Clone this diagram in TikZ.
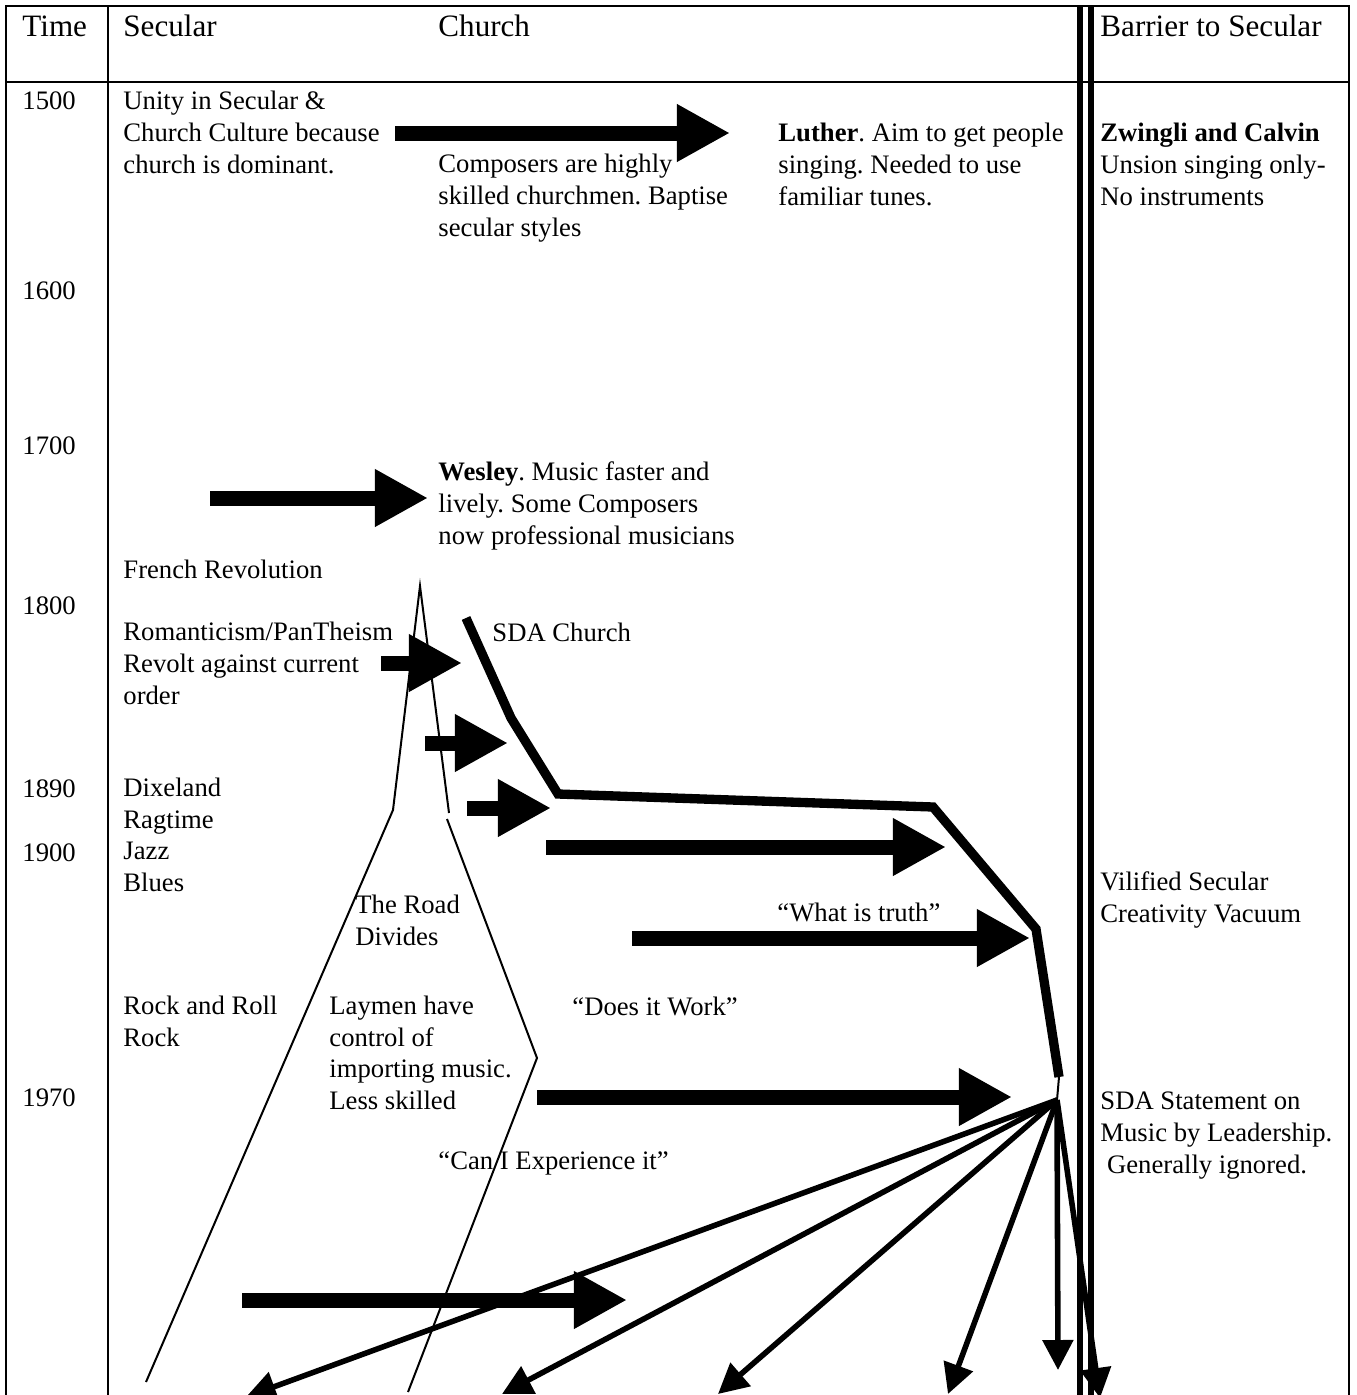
\documentclass[tikz,border=0pt]{standalone}
\usepackage{fontspec}
\setmainfont{Liberation Serif}
\usetikzlibrary{arrows.meta}
\frenchspacing
\begin{document}
\begin{tikzpicture}[x=0.45pt,y=-0.45pt,txt/.style={anchor=base west,inner sep=0,align=left,font=\fontsize{12}{14.2}\selectfont},hd/.style={txt,font=\fontsize{14}{16}\selectfont},rule/.style={line width=1.1pt},bar/.style={line width=2.7pt},road/.style={line width=0.9pt},fat/.style={line width=6.75pt,-{Triangle[length=23.9pt,width=24.3pt]}},fan/.style={line width=2.5pt,-{Triangle[length=13.5pt,width=13.5pt]}},sda/.style={line width=4.2pt}]
\useasboundingbox(0,0)rectangle(1356,1395);
\draw[rule](6,1395)--(6,6)--(1349,6)--(1349,1395);\draw[rule](6,82)--(1349,82);\draw[rule](108,6)--(108,1395);
\draw[bar](1080,6)--(1080,1395);\draw[bar](1090.5,6)--(1090.5,1395);
\node[hd](time)at(22,36){Time};\node[hd](secular)at(123,36){Secular};\node[hd](church)at(438,36){Church};\node[hd](barrier)at(1100,36){Barrier to Secular};
\node[txt](y1500)at(22,109){1500};\node[txt](y1600)at(22,299){1600};\node[txt](y1700)at(22,454){1700};\node[txt](y1800)at(22,614){1800};
\node[txt](y1890)at(22,797){1890};\node[txt](y1900)at(22,861){1900};\node[txt](y1970)at(22,1106){1970};
\node[txt](unity)at(123,173){Unity in Secular \&\\Church Culture because\\church is dominant.};
\node[txt](composers)at(438,236){Composers are highly\\skilled churchmen. Baptise\\secular styles};
\node[txt](luther)at(778,205){\textbf{Luther}. Aim to get people\\singing. Needed to use\\familiar tunes.};
\node[txt](zwingli)at(1100,205){\textbf{Zwingli and Calvin}\\Unsion singing only-\\No instruments};
\node[txt](wesley)at(438,544){\textbf{Wesley}. Music faster and\\lively. Some Composers\\now professional musicians};
\node[txt](french)at(123,578){French Revolution};
\node[txt](romantic)at(123,704){Romanticism/PanTheism\\Revolt against current\\order};
\node[txt](sdachurch)at(492,641){SDA Church};
\node[txt](dixie)at(123,891.5){Dixeland\\Ragtime\\Jazz\\Blues};
\node[txt](vilified)at(1100,922.5){Vilified Secular\\Creativity Vacuum};
\node[txt](road)at(355,945.5){The Road\\Divides};
\node[txt](truth)at(777,921){“What is truth”};
\node[txt](rock)at(123,1046.5){Rock and Roll\\Rock};
\node[txt](laymen)at(329,1109.5){Laymen have\\control of\\importing music.\\Less skilled};
\node[txt](work)at(572,1015){“Does it Work”};
\node[txt](statement)at(1100,1173){SDA Statement on\\Music by Leadership.\\~Generally ignored.};
\node[txt](experience)at(438,1169){“Can I Experience it”};
\coordinate(peak)at(420,586);\coordinate(ls)at(393,810);\coordinate(le)at(146,1382);\coordinate(rs)at(449,813);
\coordinate(rb)at(447,819);\coordinate(rk)at(537,1058);\coordinate(re)at(408,1392);
\draw[road](le)--(ls)--(peak)--(rs);\draw[road](rb)--(rk)--(re);
\coordinate(s1)at(466,618);\coordinate(s2)at(511,718);\coordinate(s3)at(558,794);\coordinate(s4)at(933,807);\coordinate(s5)at(1036,929);\coordinate(s6)at(1059,1077);\coordinate(hub)at(1057,1100);
\draw[sda](s1)--(s2)--(s3)--(s4)--(s5)--(s6);\draw[road](s6)--(hub);
\coordinate(a1s)at(395,133);\coordinate(a1e)at(730,133);\coordinate(a2s)at(210,498);\coordinate(a2e)at(428,498);
\coordinate(a3s)at(381,663);\coordinate(a3e)at(462,663);\coordinate(a4s)at(425,743);\coordinate(a4e)at(508,743);
\coordinate(a5s)at(467,808);\coordinate(a5e)at(551,808);\coordinate(a6s)at(546,847);\coordinate(a6e)at(946,847);
\coordinate(a7s)at(632,938);\coordinate(a7e)at(1030,938);\coordinate(a8s)at(537,1097);\coordinate(a8e)at(1012,1097);
\coordinate(a9s)at(242,1300);\coordinate(a9e)at(627,1300);
\draw[fat](a1s)--(a1e);\draw[fat](a2s)--(a2e);\draw[fat](a3s)--(a3e);\draw[fat](a4s)--(a4e);\draw[fat](a5s)--(a5e);
\draw[fat](a6s)--(a6e);\draw[fat](a7s)--(a7e);\draw[fat](a8s)--(a8e);\draw[fat](a9s)--(a9e);
\coordinate(f1)at(246,1397);\coordinate(f2)at(502,1394);\coordinate(f3)at(718,1394);\coordinate(f4)at(948,1394);\coordinate(f5)at(1058,1370);\coordinate(f6)at(1100,1398);
\draw[fan](hub)--(f1);\draw[fan](hub)--(f2);\draw[fan](hub)--(f3);\draw[fan](hub)--(f4);\draw[fan](hub)--(f5);\draw[fan](hub)--(f6);
\end{tikzpicture}
\end{document}
